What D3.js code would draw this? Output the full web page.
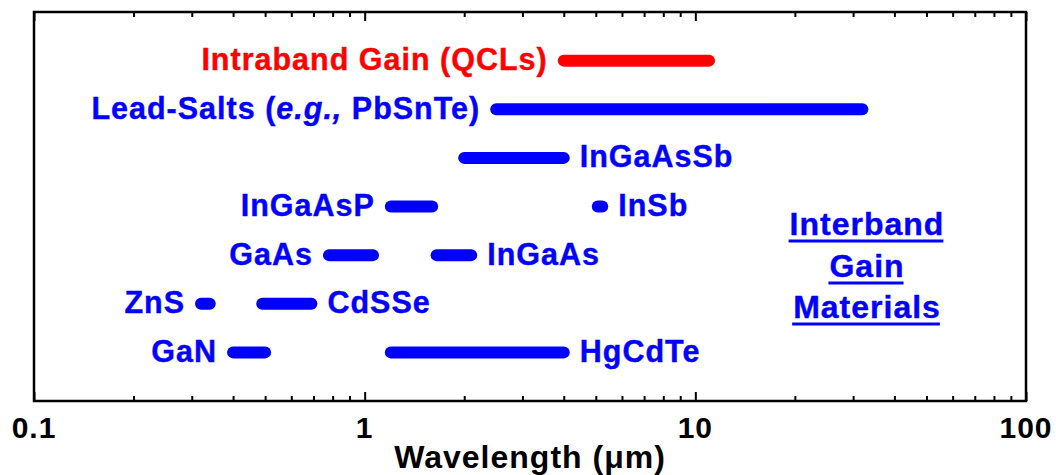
<!DOCTYPE html>
<html>
<head>
<meta charset="utf-8">
<script src="https://cdn.jsdelivr.net/npm/d3@7"></script>
<style>
  html, body { margin: 0; padding: 0; background: #fff; }
  svg { display: block; }
  text { font-family: "Liberation Sans", Arial, sans-serif; font-weight: bold; }
</style>
</head>
<body>
<svg id="chart" width="1056" height="475"></svg>
<script>
// ---- data ----
const materials = ["Intraband Gain (QCLs)", "Lead-Salts (e.g., PbSnTe)", "InGaAsSb", "InGaAsP", "InSb",
                   "GaAs", "InGaAs", "ZnS", "CdSSe", "GaN", "HgCdTe"];
const rows      = [7, 6, 5, 4, 4, 3, 3, 2, 2, 1, 1];
const lowUm     = [4.0, 2.5, 2.0, 1.2, 5.07, 0.78, 1.65, 0.32, 0.49, 0.40, 1.2];
const highUm    = [11.0, 32.0, 4.0, 1.6, 5.23, 1.06, 2.1, 0.34, 0.69, 0.50, 4.0];
const labelSide = ["left", "left", "right", "left", "right", "left", "right", "left", "right", "left", "right"];
const gainType  = ["intraband", "interband", "interband", "interband", "interband", "interband",
                   "interband", "interband", "interband", "interband", "interband"];
const tickValues = [0.1, 1, 10, 100];
const tickLabels = ["0.1", "1", "10", "100"];
const xTitle = "Wavelength (\u03bcm)";
const legendLines = ["Interband", "Gain", "Materials"];

// ---- layout ----
const svg = d3.select("#chart");
const L = 34, R = 1026, T = 12, B = 401;
const x = d3.scaleLog().domain([0.1, 100]).range([L, R]);
const y = d3.scaleLinear().domain([8, 0]).range([T, B]);
const color = d3.scaleOrdinal().domain(["intraband", "interband"]).range(["#ff0000", "#0000ff"]);

// minor + major ticks (bottom and top, inward)
const minorTicks = [];
for (let d = 0.1; d < 100; d *= 10) for (let k = 2; k <= 9; k++) minorTicks.push(d * k);

const bottomMinor = d3.axisBottom(x).tickValues(minorTicks).tickSize(-5).tickFormat("");
const bottomMajor = d3.axisBottom(x).tickValues(tickValues).tickSize(-9).tickFormat("");
const topMinor = d3.axisTop(x).tickValues(minorTicks).tickSize(-5).tickFormat("");
const topMajor = d3.axisTop(x).tickValues(tickValues).tickSize(-9).tickFormat("");

function styleAxis(g) {
  g.select(".domain").remove();
  g.selectAll("line").attr("stroke", "#000").attr("stroke-width", 2);
}
svg.append("g").attr("transform", `translate(0,${B})`).call(bottomMinor).call(styleAxis);
svg.append("g").attr("transform", `translate(0,${B})`).call(bottomMajor).call(styleAxis);
svg.append("g").attr("transform", `translate(0,${T})`).call(topMinor).call(styleAxis);
svg.append("g").attr("transform", `translate(0,${T})`).call(topMajor).call(styleAxis);

// frame
svg.append("rect").attr("x", L).attr("y", T).attr("width", R - L).attr("height", B - T)
  .attr("fill", "none").attr("stroke", "#000").attr("stroke-width", 2.5);

// tick labels
svg.append("g").selectAll("text").data(tickValues).join("text")
  .attr("x", d => x(d)).attr("y", 438)
  .attr("text-anchor", "middle")
  .style("font-size", "30px").style("letter-spacing", "1px")
  .attr("fill", "#000")
  .text((d, i) => tickLabels[i]);

// axis title
svg.append("text").attr("x", (L + R) / 2).attr("y", 468)
  .attr("text-anchor", "middle")
  .style("font-size", "32px").style("letter-spacing", "1px")
  .attr("fill", "#000").text(xTitle);

// bars (thick rounded lines)
const idx = d3.range(materials.length);
const SW = 12;
svg.append("g").selectAll("line").data(idx).join("line")
  .attr("x1", i => x(lowUm[i])).attr("x2", i => x(highUm[i]))
  .attr("y1", i => y(rows[i])).attr("y2", i => y(rows[i]))
  .attr("stroke", i => color(gainType[i]))
  .attr("stroke-width", SW).attr("stroke-linecap", "round");

// labels
const gap = SW / 2 + 10;
const labels = svg.append("g").selectAll("text").data(idx).join("text")
  .attr("x", i => labelSide[i] === "left" ? x(lowUm[i]) - gap : x(highUm[i]) + gap)
  .attr("y", i => y(rows[i]) + 9.5)
  .attr("text-anchor", i => labelSide[i] === "left" ? "end" : "start")
  .attr("fill", i => color(gainType[i]))
  .attr("stroke", i => color(gainType[i])).attr("stroke-width", 0.4)
  .style("font-size", "30.5px").style("letter-spacing", "1px");
labels.each(function(i) {
  const t = d3.select(this);
  const parts = materials[i].split(/(e\.g\.,)/);
  parts.forEach(p => {
    if (!p) return;
    const ts = t.append("tspan").text(p);
    if (p === "e.g.,") ts.style("font-style", "italic");
  });
});

// interband legend text with underlines
const lg = svg.append("g");
const lgBase = [235, 277, 318];
const lgText = lg.selectAll("text").data(legendLines).join("text")
  .attr("x", 867).attr("y", (d, i) => lgBase[i])
  .attr("text-anchor", "middle")
  .attr("fill", "#0000ff")
  .attr("stroke", "#0000ff").attr("stroke-width", 0.4)
  .style("font-size", "32px").style("letter-spacing", "1px")
  .text(d => d);
lgText.each(function(d, i) {
  const bb = this.getBBox();
  lg.append("line")
    .attr("x1", bb.x - 1).attr("x2", bb.x + bb.width - 1)
    .attr("y1", lgBase[i] + 6).attr("y2", lgBase[i] + 6)
    .attr("stroke", "#0000ff").attr("stroke-width", 3);
});
</script>
</body>
</html>
